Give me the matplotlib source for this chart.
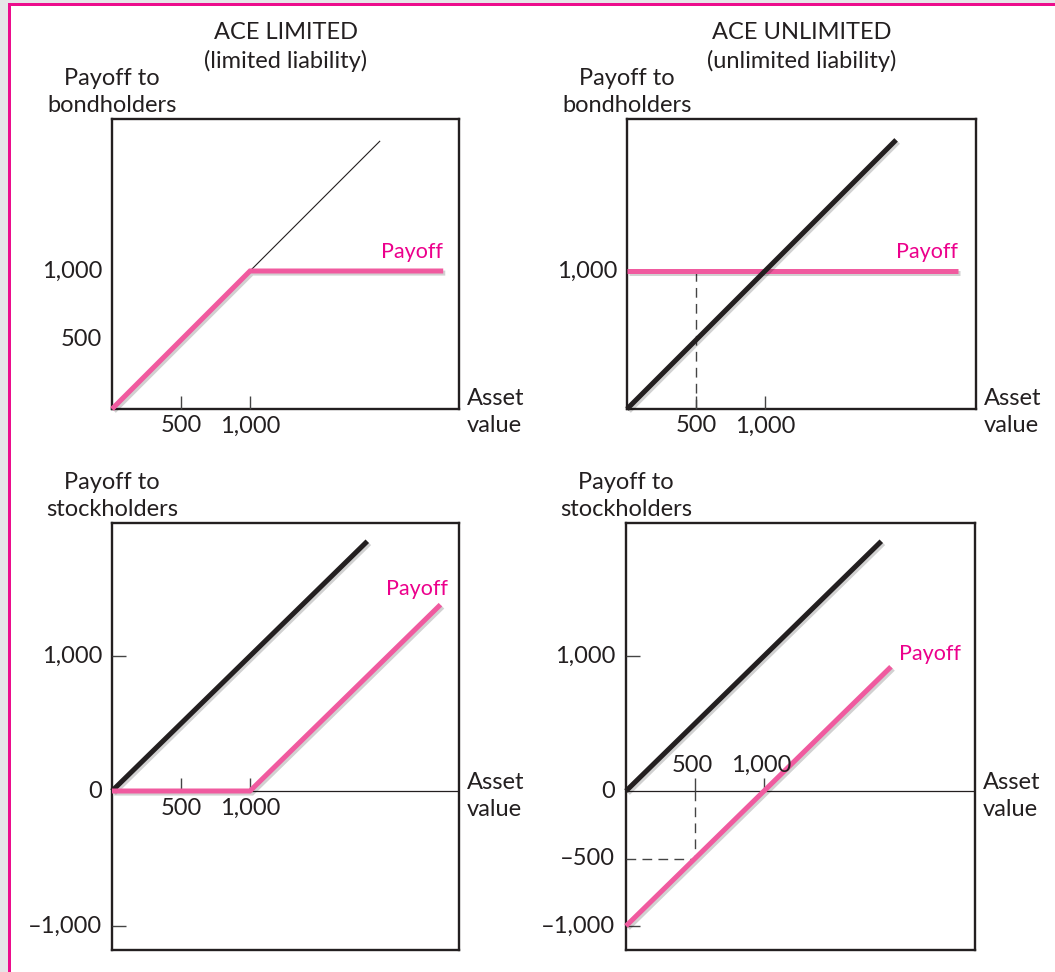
import matplotlib
matplotlib.use('Agg')
import matplotlib.pyplot as plt
import matplotlib.patheffects as pe
from matplotlib.markers import TICKUP, TICKRIGHT
from matplotlib.patches import Rectangle

plt.rcParams['font.family'] = ['Lato', 'DejaVu Sans']

W, H, DPI = 1055, 972, 100
PT = 0.72  # points per pixel at 100 dpi

# ---------------- data ----------------
titles = ["ACE LIMITED\n(limited liability)", "ACE UNLIMITED\n(unlimited liability)"]
bond_ylabel = "Payoff to\nbondholders"
stock_ylabel = "Payoff to\nstockholders"
x_label = "Asset\nvalue"
payoff_label = "Payoff"

# top-left: bondholders, limited liability
tl_asset = [0, 1000, 2400]
tl_payoff = [0, 1000, 1000]
tl_firm_asset = [1000, 1940]
tl_firm_value = [1000, 1940]
# top-right: bondholders, unlimited liability
tr_asset = [0, 2400]
tr_payoff = [1000, 1000]
tr_firm_asset = [0, 1950]
tr_firm_value = [0, 1950]
# bottom-left: stockholders, limited liability
bl_asset = [0, 1000, 2380]
bl_payoff = [0, 0, 1380]
bl_firm_asset = [0, 1850]
bl_firm_value = [0, 1850]
# bottom-right: stockholders, unlimited liability
br_asset = [0, 1920]
br_payoff = [-1000, 920]
br_firm_asset = [0, 1850]
br_firm_value = [0, 1850]

x_ticks = [500, 1000]
x_tick_labels = ["500", "1,000"]
tl_yticks = [1000, 500]
tl_ytick_labels = ["1,000", "500"]
tr_yticks = [1000]
tr_ytick_labels = ["1,000"]
bl_yticks = [1000, 0, -1000]
bl_ytick_labels = ["1,000", "0", "\u20131,000"]
br_yticks = [1000, 0, -500, -1000]
br_ytick_labels = ["1,000", "0", "\u2013500", "\u20131,000"]
bottom_ytick_marks = [1000, -1000]
guide_asset = 500
tr_guide_payoff = 1000
br_guide_payoff = -500

# ---------------- style ----------------
INK = '#231f20'
PINK_LINE = '#f05a9f'
PINK_TEXT = '#ec008c'
BORDER = '#ec0d8c'
FS = 17
FS_PAY = 15.5
LSP = 1.33

fig = plt.figure(figsize=(W / DPI, H / DPI), dpi=DPI, facecolor='white')

# outer gray margin + pink frame
fig.add_artist(Rectangle((0, 0), 8 / W, 1, transform=fig.transFigure, color='#e6e6e8', lw=0))
fig.add_artist(Rectangle((0, 1 - 3 / H), 1, 3 / H, transform=fig.transFigure, color='#e6e6e8', lw=0))
fig.add_artist(Rectangle((8 / W, 0), 3 / W, 1 - 3 / H, transform=fig.transFigure, color=BORDER, lw=0))
fig.add_artist(Rectangle((8 / W, 1 - 6 / H), 1 - 8 / W, 3 / H, transform=fig.transFigure, color=BORDER, lw=0))


def px_axes(l, t, r, b):
    ax = fig.add_axes([l / W, 1 - b / H, (r - l) / W, (b - t) / H])
    ax.set_xticks([])
    ax.set_yticks([])
    for s in ax.spines.values():
        s.set_linewidth(1.7)
        s.set_color(INK)
    return ax


shadow = [pe.SimpleLineShadow(offset=(1.5, -1.5), shadow_color='k', alpha=0.18), pe.Normal()]


def line(ax, x, y, color, lw):
    ax.plot(x, y, color=color, lw=lw, solid_capstyle='butt', solid_joinstyle='miter',
            clip_on=False, zorder=4, path_effects=shadow)


def label(ax, txt, x, y, dx_px, dy_px, ha, va, color=INK, fs=FS):
    ax.annotate(txt, xy=(x, y), xycoords='data', xytext=(dx_px * PT, dy_px * PT),
                textcoords='offset points', ha=ha, va=va, fontsize=fs, color=color, zorder=6,
                annotation_clip=False)


def ticks_up(ax, xs, y0):
    ax.plot(xs, [y0] * len(xs), ls='none', marker=TICKUP, ms=13 * PT, mew=1.0,
            color='#444444', clip_on=False, zorder=3)


def ticks_right(ax, ys):
    ax.plot([0] * len(ys), ys, ls='none', marker=TICKRIGHT, ms=14 * PT, mew=1.0,
            color='#444444', clip_on=False, zorder=3)


def side_texts(ax_l, ax_t, ax_r, ax_b, ylab, ylab_y, xlab_y, title=None):
    if title:
        fig.text(((ax_l + ax_r) / 2) / W, 1 - 47 / H, title, ha='center', va='center',
                 fontsize=FS, color=INK, linespacing=LSP)
    fig.text(ax_l / W, 1 - ylab_y / H, ylab, ha='center', va='center', fontsize=FS,
             color=INK, linespacing=LSP)
    fig.text((ax_r + 8) / W, 1 - xlab_y / H, x_label, ha='left', va='center', fontsize=FS,
             color=INK, linespacing=LSP)


XS = 0.138   # px per unit, x
YS_T = 0.138  # px per unit, y top row
YS_B = 0.135  # px per unit, y bottom row

# ---------- top-left ----------
l, t, r, b = 112, 119, 459, 409
ax = px_axes(l, t, r, b)
ax.set_xlim(0, (r - l) / XS)
ax.set_ylim(0, (b - t) / YS_T)
ax.plot(tl_firm_asset, tl_firm_value, color=INK, lw=0.8, zorder=3)
line(ax, tl_asset, tl_payoff, PINK_LINE, 3.6)
ticks_up(ax, x_ticks, 0)
for xv, s in zip(x_ticks, x_tick_labels):
    label(ax, s, xv, 0, 0, -17, 'center', 'center')
for yv, s in zip(tl_yticks, tl_ytick_labels):
    label(ax, s, 0, yv, -10, 0, 'right', 'center')
label(ax, payoff_label, tl_asset[-1], tl_payoff[-1], 0, 9, 'right', 'bottom', PINK_TEXT, FS_PAY)
side_texts(l, t, r, b, bond_ylabel, 92, 412, titles[0])

# ---------- top-right ----------
l, t, r, b = 627, 119, 976, 409
ax = px_axes(l, t, r, b)
ax.set_xlim(0, (r - l) / XS)
ax.set_ylim(0, (b - t) / YS_T)
ax.plot([guide_asset, guide_asset], [0, tr_guide_payoff], color='#444444', lw=1.0,
        dashes=(7, 4.5), zorder=3)
line(ax, tr_asset, tr_payoff, PINK_LINE, 3.6)
line(ax, tr_firm_asset, tr_firm_value, INK, 3.6)
ticks_up(ax, x_ticks, 0)
for xv, s in zip(x_ticks, x_tick_labels):
    label(ax, s, xv, 0, 0, -17, 'center', 'center')
for yv, s in zip(tr_yticks, tr_ytick_labels):
    label(ax, s, 0, yv, -10, 0, 'right', 'center')
label(ax, payoff_label, tr_asset[-1], tr_payoff[-1], 0, 9, 'right', 'bottom', PINK_TEXT, FS_PAY)
side_texts(l, t, r, b, bond_ylabel, 92, 412, titles[1])

# ---------- bottom-left ----------
l, t, r, b = 112, 523, 459, 950
y0 = 791
ax = px_axes(l, t, r, b)
ax.set_xlim(0, (r - l) / XS)
ax.set_ylim(-(b - y0) / YS_B, (y0 - t) / YS_B)
ax.axhline(0, color=INK, lw=0.9, zorder=2)
line(ax, bl_firm_asset, bl_firm_value, INK, 3.6)
line(ax, bl_asset, bl_payoff, PINK_LINE, 3.6)
ticks_up(ax, x_ticks, 0)
ticks_right(ax, bottom_ytick_marks)
for xv, s in zip(x_ticks, x_tick_labels):
    label(ax, s, xv, 0, 0, -17, 'center', 'center')
for yv, s in zip(bl_yticks, bl_ytick_labels):
    label(ax, s, 0, yv, -10, 0, 'right', 'center')
label(ax, payoff_label, bl_asset[-1], bl_payoff[-1], 7, 6, 'right', 'bottom', PINK_TEXT, FS_PAY)
side_texts(l, t, r, b, stock_ylabel, 496, 796)

# ---------- bottom-right ----------
l, t, r, b = 626, 523, 975, 950
ax = px_axes(l, t, r, b)
ax.set_xlim(0, (r - l) / XS)
ax.set_ylim(-(b - y0) / YS_B, (y0 - t) / YS_B)
ax.axhline(0, color=INK, lw=0.9, zorder=2)
ax.plot([guide_asset, guide_asset], [0, br_guide_payoff], color='#444444', lw=1.0,
        dashes=(7, 4.5), zorder=3)
ax.plot([0, guide_asset], [br_guide_payoff, br_guide_payoff], color='#444444', lw=1.0,
        dashes=(7, 4.5), zorder=3)
line(ax, br_firm_asset, br_firm_value, INK, 3.6)
line(ax, br_asset, br_payoff, PINK_LINE, 3.6)
ticks_up(ax, x_ticks, 0)
ticks_right(ax, bottom_ytick_marks)
for xv, s in zip(x_ticks, x_tick_labels):
    label(ax, s, xv, 0, -3, 26, 'center', 'center')
for yv, s in zip(br_yticks, br_ytick_labels):
    label(ax, s, 0, yv, -11, 0, 'right', 'center')
label(ax, payoff_label, br_asset[-1], br_payoff[-1], 8, 3, 'left', 'bottom', PINK_TEXT, FS_PAY)
side_texts(l, t, r, b, stock_ylabel, 496, 796)

fig.savefig('out.png', dpi=DPI, facecolor='white')
